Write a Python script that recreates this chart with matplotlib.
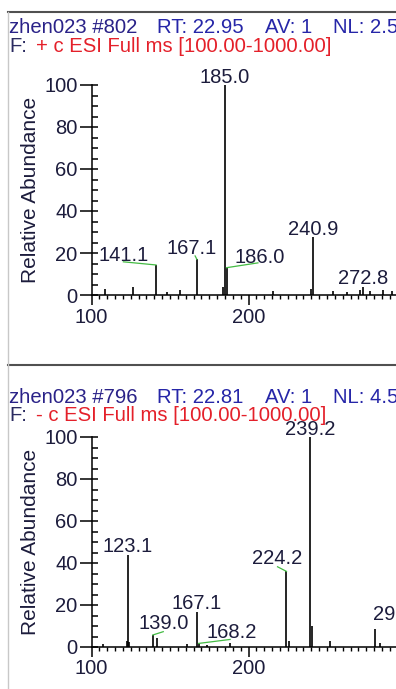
import matplotlib.pyplot as plt
from matplotlib.lines import Line2D
from matplotlib.ticker import MultipleLocator, FixedLocator

plt.rcParams['font.family'] = ['Liberation Sans', 'DejaVu Sans']

# positive mode scan (#802)
pos_mz = [108.6, 126.6, 141.1, 147.9, 156.4, 167.1, 184.0, 185.0, 186.0,
          215.8, 240.0, 240.9, 254.0, 262.5, 271.0, 272.8, 277.4, 285.9, 291.2]
pos_int = [3.0, 4.0, 14.3, 1.5, 2.4, 17.0, 4.0, 100.0, 13.0,
           2.0, 2.7, 27.5, 2.0, 1.5, 2.5, 4.0, 2.0, 2.5, 2.0]
pos_labels = ['141.1', '167.1', '185.0', '186.0', '240.9', '272.8']
pos_header = ['zhen023 #802', 'RT: 22.95', 'AV: 1', 'NL: 2.59E7']

# negative mode scan (#796)
neg_mz = [107.5, 122.5, 123.1, 124.0, 139.0, 141.5, 160.6, 167.1, 168.2, 173.4,
          188.2, 224.2, 225.5, 239.2, 240.2, 251.9, 280.6, 283.8, 295.1]
neg_int = [1.5, 3.0, 44.0, 2.5, 5.7, 4.3, 1.5, 16.8, 1.7, 1.0,
           2.0, 36.0, 3.0, 100.0, 10.0, 3.0, 8.6, 2.0, 12.0]
neg_labels = ['123.1', '139.0', '167.1', '168.2', '224.2', '239.2', '295.1']
neg_header = ['zhen023 #796', 'RT: 22.81', 'AV: 1', 'NL: 4.52E6']

# label placement for the displaced labels: (mz, height) of text centre/baseline,
# and the end of the green leader line
pos_place = {'141.1': (120.5, 16.2), '167.1': (163.8, 19.4), '186.0': (207.0, 15.4)}
neg_place = {'139.0': (146.2, 8.4), '168.2': (189.3, 4.4), '224.2': (218.0, 39.4)}
pos_lead = {'141.1': (120.3, 15.8), '167.1': (166.0, 18.6), '186.0': (206.0, 15.3)}
neg_lead = {'139.0': (145.7, 7.3), '168.2': (188.3, 3.6), '224.2': (218.5, 38.2)}

W, H = 396, 689
fig = plt.figure(figsize=(W / 100, H / 100), dpi=100)

txt_col = '#1c1c3c'
lab_fs = 14.5
head_fs = 14.6
head_x = [9, 157, 265, 333]


def spectrum(y_zero, mz, inten, labels, place, lead):
    ax = fig.add_axes([91.5 / W, (H - y_zero) / H, 314 / W, 210 / H])
    ax.vlines(mz, 0, inten, color='black', lw=1.2)
    ax.set_xlim(100, 300)
    ax.set_ylim(0, 100)
    for s in ['top', 'right']:
        ax.spines[s].set_visible(False)
    for s in ['left', 'bottom']:
        ax.spines[s].set_linewidth(1.1)
    ax.xaxis.set_major_locator(FixedLocator([100, 200]))
    ax.xaxis.set_minor_locator(MultipleLocator(5))
    ax.yaxis.set_major_locator(MultipleLocator(20))
    ax.yaxis.set_minor_locator(MultipleLocator(5))
    ax.yaxis.remove_overlapping_locs = False
    ax.tick_params(axis='y', which='major', direction='out', length=9, width=1.1,
                   labelsize=14.5, labelcolor=txt_col, pad=1)
    ax.tick_params(axis='y', which='minor', direction='in', length=4, width=1.1)
    ax.tick_params(axis='x', which='major', direction='out', length=7, width=1.1,
                   labelsize=14.5, labelcolor=txt_col, pad=2)
    ax.tick_params(axis='x', which='minor', direction='out', length=3, width=1.0)
    ax.set_ylabel('Relative Abundance', fontsize=15, color=txt_col, labelpad=3)
    for lab in labels:
        m = float(lab)
        i = min(range(len(mz)), key=lambda k: abs(mz[k] - m))
        h = inten[i]
        if lab in place:
            tx, ty = place[lab]
            ax.text(tx, ty, lab, ha='center', va='baseline', fontsize=lab_fs,
                    color=txt_col, clip_on=False)
            lx, ly = lead[lab]
            ax.plot([mz[i], lx], [h, ly], color='#44bb44', lw=0.9, clip_on=False)
        else:
            ax.annotate(lab, (mz[i], h), xytext=(0, 1.6), textcoords='offset points',
                        ha='center', va='baseline', fontsize=lab_fs, color=txt_col,
                        annotation_clip=False)
    return ax


ax1 = spectrum(295, pos_mz, pos_int, pos_labels, pos_place, pos_lead)
ax2 = spectrum(647, neg_mz, neg_int, neg_labels, neg_place, neg_lead)


def header(y1, y2, parts, sign):
    for k, (x, part) in enumerate(zip(head_x, parts)):
        fig.text(x / W, 1 - y1 / H, part, fontsize=head_fs,
                 color='#2a2288' if k == 0 else '#2626a8', va='baseline')
    fig.text(9 / W, 1 - y2 / H, 'F:', fontsize=head_fs, color='#2a2a60', va='baseline')
    fig.text(35.5 / W, 1 - y2 / H, sign + ' c ESI Full ms [100.00-1000.00]',
             fontsize=head_fs, color='#e4202a', va='baseline')


header(33, 52, pos_header, '+')
header(403, 420.5, neg_header, '-')

# panel frame lines
fig.add_artist(Line2D([8 / W, 1], [1 - 12 / H, 1 - 12 / H], color='#505050', lw=1.5))
fig.add_artist(Line2D([8 / W, 1], [1 - 365 / H, 1 - 365 / H], color='#505050', lw=1.5))
fig.add_artist(Line2D([8 / W, 8 / W], [0, 1 - 12 / H], color='#c8c8c8', lw=1.0))

fig.savefig('out.png', dpi=100)
